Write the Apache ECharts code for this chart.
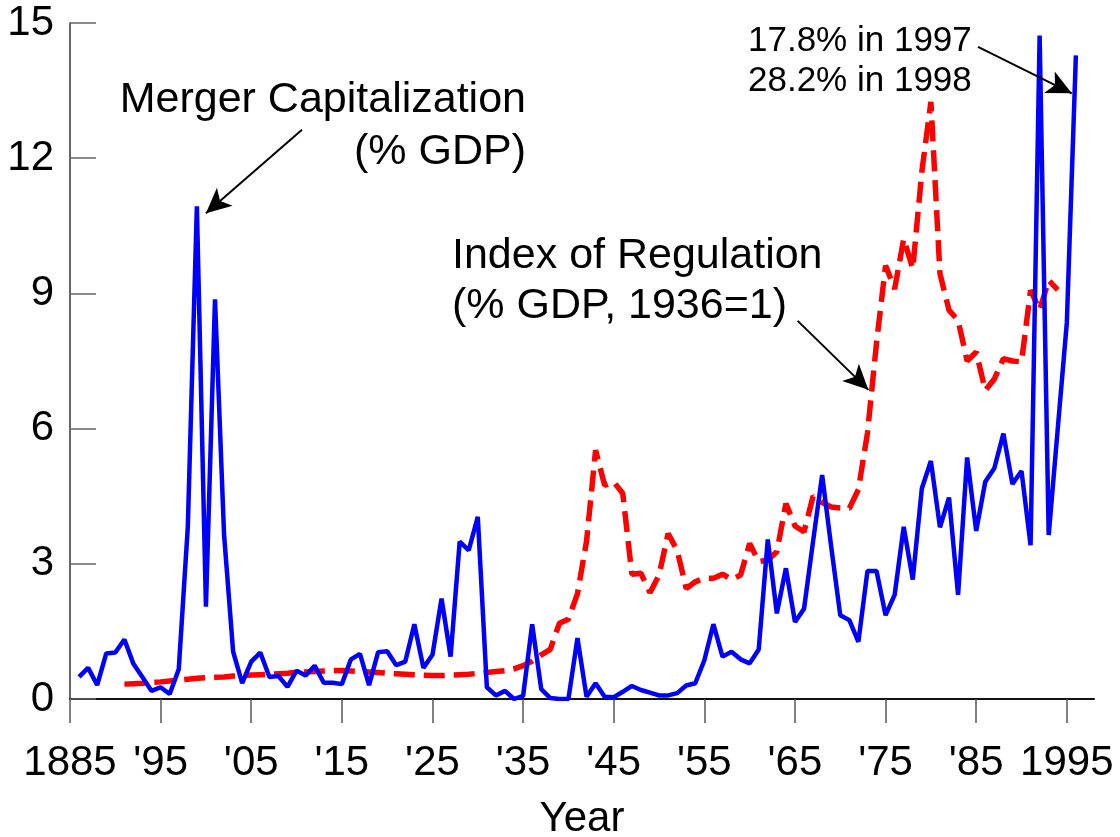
<!DOCTYPE html>
<html>
<head>
<meta charset="utf-8">
<script src="https://cdn.jsdelivr.net/npm/echarts@6/dist/echarts.min.js"></script>
<style>
    html, body { margin: 0; background: #fff; }
    #chart { width: 1120px; height: 837px; }
</style>
</head>
<body>
<div id="chart"></div>
<script>
    // merger capitalization, % of GDP, one value per year from 1886
    var mergerStart = 1886;
    var mergerValues = [
        0.49, 0.69, 0.31, 1.01, 1.03, 1.32, 0.78, 0.48, 0.18, 0.26,   // 1886-95
        0.11, 0.66, 3.82, 10.93, 2.05, 8.87, 3.65, 1.05, 0.35, 0.83,  // 1896-1905
        1.03, 0.49, 0.51, 0.27, 0.63, 0.52, 0.74, 0.36, 0.36, 0.33,   // 1906-15
        0.88, 1.00, 0.31, 1.04, 1.06, 0.75, 0.83, 1.66, 0.69, 0.98,   // 1916-25
        2.23, 0.94, 3.49, 3.30, 4.04, 0.26, 0.08, 0.18, 0.00, 0.07,   // 1926-35
        1.66, 0.22, 0.02, 0.00, 0.00, 1.35, 0.05, 0.35, 0.05, 0.04,   // 1936-45
        0.16, 0.29, 0.20, 0.14, 0.08, 0.08, 0.13, 0.30, 0.35, 0.86,   // 1946-55
        1.66, 0.94, 1.05, 0.88, 0.79, 1.10, 3.54, 1.90, 2.90, 1.71,   // 1956-65
        2.00, 3.50, 4.97, 3.38, 1.86, 1.75, 1.27, 2.84, 2.84, 1.86,   // 1966-75
        2.31, 3.82, 2.65, 4.67, 5.28, 3.81, 4.47, 2.31, 5.36, 3.73,   // 1976-85
        4.82, 5.12, 5.89, 4.77, 5.06, 3.41, 14.72, 3.64, 6.00, 8.35,  // 1986-95
        14.28                                                         // 1996
    ];

    // index of regulation (% GDP, 1936=1), one value per year from 1891
    var regStart = 1891;
    var regValues = [
        0.33, 0.34, 0.35, 0.37, 0.38, 0.40, 0.42, 0.44, 0.46,         // 1891-99
        0.47, 0.48, 0.49, 0.51, 0.52, 0.53, 0.54, 0.55, 0.56, 0.57,   // 1900-09
        0.59, 0.60, 0.61, 0.62, 0.63, 0.63, 0.62, 0.61, 0.60, 0.59,   // 1910-19
        0.57, 0.56, 0.55, 0.54, 0.53, 0.52, 0.52, 0.53, 0.54, 0.55,   // 1920-29
        0.57, 0.59, 0.61, 0.63, 0.67, 0.74, 0.84, 0.98, 1.10, 1.68,   // 1930-39
        1.77, 2.34, 3.50, 5.52, 4.74, 4.82, 4.56, 2.77, 2.79, 2.36,   // 1940-49
        2.75, 3.67, 3.30, 2.45, 2.60, 2.68, 2.68, 2.77, 2.65, 2.75,   // 1950-59
        3.45, 3.05, 3.08, 3.27, 4.34, 3.84, 3.71, 4.50, 4.36, 4.26,   // 1960-69
        4.24, 4.23, 4.65, 5.90, 7.90, 9.62, 9.10, 10.21, 9.55, 11.70, // 1970-79
        13.25, 9.44, 8.63, 8.40, 7.50, 7.70, 6.85, 7.10, 7.55, 7.50,  // 1980-89
        7.48, 9.07, 8.63, 9.29, 9.08                                  // 1990-94
    ];

    var xTicks = [1885, 1895, 1905, 1915, 1925, 1935, 1945, 1955, 1965, 1975, 1985, 1995];
    var xMin = 1885;
    var xMax = 1998;
    var yMax = 15;
    var yStep = 3;

    var font = '"Liberation Sans", Arial, sans-serif';

    function pairs(start, values) {
        return values.map(function (v, i) { return [start + i, v]; });
    }

    // arrow from [x, y] to [x, y] in data units
    function arrow(from, to) {
        return [
            { coord: from, symbol: 'none' },
            { coord: to, symbol: 'arrow', symbolSize: [18, 25] }
        ];
    }

    var chart = echarts.init(document.getElementById('chart'));

    var option = {
        animation: false,
        textStyle: { fontFamily: font },
        grid: { left: 70, right: 26, top: 23, bottom: 138, outerBoundsMode: 'none' },
        xAxis: {
            type: 'value',
            min: xMin,
            max: xMax,
            name: 'Year',
            nameLocation: 'middle',
            nameGap: 99,
            nameTextStyle: { fontSize: 42, color: '#000', fontFamily: font },
            splitLine: { show: false },
            axisLine: { lineStyle: { color: '#111', width: 2 } },
            axisTick: { customValues: xTicks, length: 24, lineStyle: { color: '#555', width: 1.5 } },
            axisLabel: {
                customValues: xTicks,
                margin: 43,
                fontSize: 42,
                color: '#000',
                fontFamily: font,
                formatter: function (v) {
                    if (v === 1885 || v === 1995) return String(v);
                    return "'" + String(v).slice(2);
                }
            }
        },
        yAxis: {
            type: 'value',
            min: 0,
            max: yMax,
            interval: yStep,
            splitLine: { show: false },
            axisLine: { show: true, lineStyle: { color: '#333', width: 1.5 } },
            axisTick: { show: true, inside: true, length: 26, lineStyle: { color: '#666', width: 1.5 } },
            axisLabel: { margin: 16, fontSize: 42, color: '#000', fontFamily: font }
        },
        series: [
            {
                name: 'Index of Regulation',
                type: 'line',
                data: pairs(regStart, regValues),
                showSymbol: false,
                lineStyle: { color: '#ff0000', width: 5.5, type: [21, 9] },
                z: 2
            },
            {
                name: 'Merger Capitalization',
                type: 'line',
                data: pairs(mergerStart, mergerValues),
                showSymbol: false,
                lineStyle: { color: '#0000ff', width: 4.5 },
                z: 3,
                markLine: {
                    silent: true,
                    animation: false,
                    label: { show: false },
                    emphasis: { disabled: true },
                    lineStyle: { color: '#000', width: 2, type: 'solid' },
                    data: [
                        arrow([1910.6, 12.63], [1900.0, 10.78]),
                        arrow([1965.3, 8.39], [1973.1, 6.86]),
                        arrow([1985.2, 14.47], [1995.55, 13.44])
                    ]
                }
            }
        ],
        graphic: [
            { type: 'text', x: 526, y: 100, style: { text: 'Merger Capitalization', font: '43px ' + font, fill: '#000', align: 'right', verticalAlign: 'middle' } },
            { type: 'text', x: 526, y: 152, style: { text: '(% GDP)', font: '43px ' + font, fill: '#000', align: 'right', verticalAlign: 'middle' } },
            { type: 'text', x: 452, y: 256, style: { text: 'Index of Regulation', font: '43px ' + font, fill: '#000', align: 'left', verticalAlign: 'middle' } },
            { type: 'text', x: 452, y: 306, style: { text: '(% GDP, 1936=1)', font: '43px ' + font, fill: '#000', align: 'left', verticalAlign: 'middle' } },
            { type: 'text', x: 748, y: 41, style: { text: '17.8% in 1997', font: '35px ' + font, fill: '#000', align: 'left', verticalAlign: 'middle' } },
            { type: 'text', x: 748, y: 81, style: { text: '28.2% in 1998', font: '35px ' + font, fill: '#000', align: 'left', verticalAlign: 'middle' } }
        ]
    };

    chart.setOption(option);
</script>
</body>
</html>
